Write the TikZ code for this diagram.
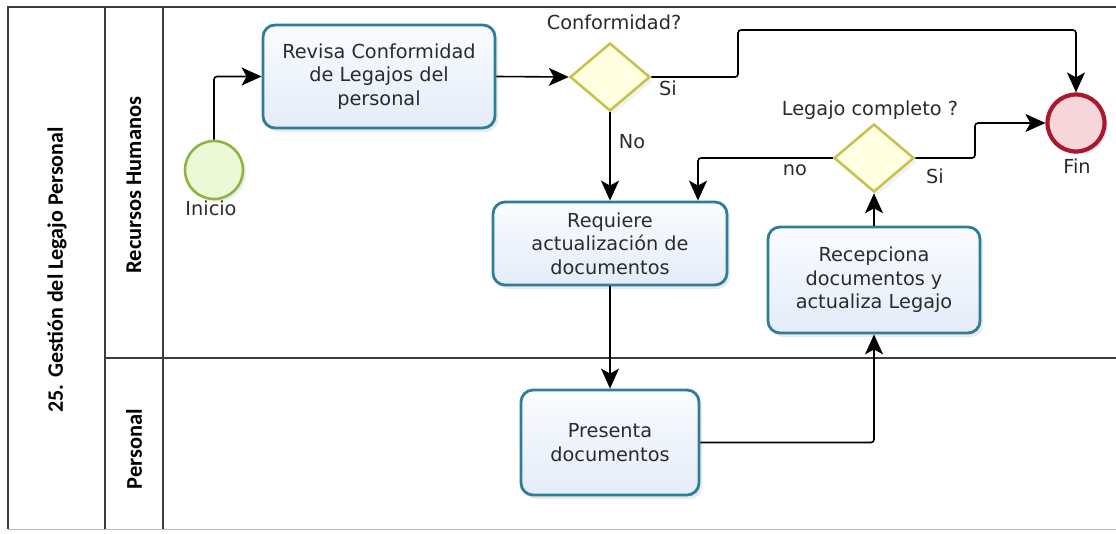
\documentclass[tikz,border=0pt]{standalone}
\usepackage{fontspec}
\setmainfont{DejaVu Sans}
\newfontfamily\lanefont{Carlito}
\usetikzlibrary{shapes.geometric,arrows.meta,shadows}
\definecolor{taskborder}{HTML}{2E7D9A}
\definecolor{tasktop}{HTML}{FAFCFF}
\definecolor{taskbot}{HTML}{E4ECF8}
\definecolor{gwborder}{HTML}{C6C24C}
\definecolor{gwfill}{HTML}{FEFEE0}
\definecolor{startborder}{HTML}{8DB545}
\definecolor{startfill}{HTML}{EDF8D6}
\definecolor{endborder}{HTML}{A9192B}
\definecolor{endfill}{HTML}{F6D6DB}
\definecolor{poolline}{HTML}{3C3C3C}
\definecolor{txt}{HTML}{2B2B2B}

\begin{document}
\begin{tikzpicture}[x=1pt,y=-1pt,
  font=\fontsize{19.3}{23.5}\selectfont, text=txt,
  task/.style={rectangle, rounded corners=12pt, draw=taskborder, line width=2.8pt,
    top color=tasktop, bottom color=taskbot, align=center, inner sep=2pt,
    drop shadow={shadow xshift=3pt, shadow yshift=-4pt, opacity=0.16}},
  gateway/.style={diamond, draw=gwborder, line width=2.5pt, fill=gwfill,
    minimum width=80pt, minimum height=68pt, inner sep=0pt,
    drop shadow={shadow xshift=3pt, shadow yshift=-4pt, opacity=0.10}},
  startev/.style={circle, draw=startborder, line width=2.6pt, fill=startfill,
    minimum size=58pt, inner sep=0pt,
    drop shadow={shadow xshift=3pt, shadow yshift=-3pt, opacity=0.14}},
  endev/.style={circle, draw=endborder, line width=4.2pt, fill=endfill,
    minimum size=57pt, inner sep=0pt,
    drop shadow={shadow xshift=3pt, shadow yshift=-3pt, opacity=0.14}},
  flow/.style={draw=black, line width=1.6pt, rounded corners=3pt,
    -{Stealth[length=20pt,width=18pt,inset=5pt]}},
  lbl/.style={inner sep=0pt},
  lanetitle/.style={rotate=90, text=black, font=\lanefont\bfseries\fontsize{22.5}{26}\selectfont},
  pool/.style={draw=poolline, line width=1.2pt}
]
\useasboundingbox (0,0) rectangle (1116,533);

% pool and lanes
\draw[pool] (1120,7) -- (8,7) -- (8,529);
\draw[draw=poolline!35, line width=1pt] (8,529) -- (1120,529);
\draw[pool] (105,7) -- (105,529);
\draw[pool] (163,7) -- (163,529);
\draw[pool] (105,358) -- (1120,358);

\node[lanetitle, font=\lanefont\bfseries\fontsize{22}{26}\selectfont] (pooltitle) at (57,270) {25. Gestión del Legajo Personal};
\node[lanetitle] (lanerh) at (134,185) {Recursos Humanos};
\node[lanetitle] (lanepers) at (134,449) {Personal};

% events
\node[startev] (inicio) at (214,170) {};
\node[lbl] (inicioL) at (211,208) {Inicio};
\node[endev] (fin) at (1076,123) {};
\node[lbl] (finL) at (1077,166) {Fin};

% tasks
\node[task, minimum width=232pt, minimum height=103pt] (t1) at (379,76.5)
  {Revisa Conformidad\\de Legajos del\\personal};
\node[task, minimum width=234pt, minimum height=83pt] (t2) at (610,243.5)
  {Requiere\\actualización de\\documentos};
\node[task, minimum width=212pt, minimum height=106pt] (t3) at (874,280)
  {Recepciona\\documentos y\\actualiza Legajo};
\node[task, minimum width=178pt, minimum height=105pt] (t4) at (610,442.5)
  {Presenta\\documentos};

% gateways
\node[gateway] (d1) at (610,77) {};
\node[lbl] (d1L) at (614,22) {Conformidad?};
\node[gateway] (d2) at (874,158) {};
\node[lbl] (d2L) at (870,110) {Legajo completo ?};

% routing points
\coordinate (up1) at (738,30);
\coordinate (up2) at (975,123);

% sequence flows
\draw[flow] (inicio.north) |- (t1.west);
\draw[flow] (t1.east) -- (d1.west);
\draw[flow] (d1.east) -| (up1) -| (fin.north);
\node[lbl] (si1) at (668,88) {Si};
\draw[flow] (d1.south) -- (t2.north);
\node[lbl] (no1) at (632,142) {No};
\draw[flow] (d2.west) -| ([xshift=88pt]t2.north);
\node[lbl] (no2) at (795,170) {no};
\draw[flow] (d2.east) -| (up2) -- (fin.west);
\node[lbl] (si2) at (935,176) {Si};
\draw[flow] (t3.north) -- (d2.south);
\draw[flow] (t2.south) -- (t4.north);
\draw[flow] (t4.east) -| (t3.south);
\end{tikzpicture}
\end{document}
